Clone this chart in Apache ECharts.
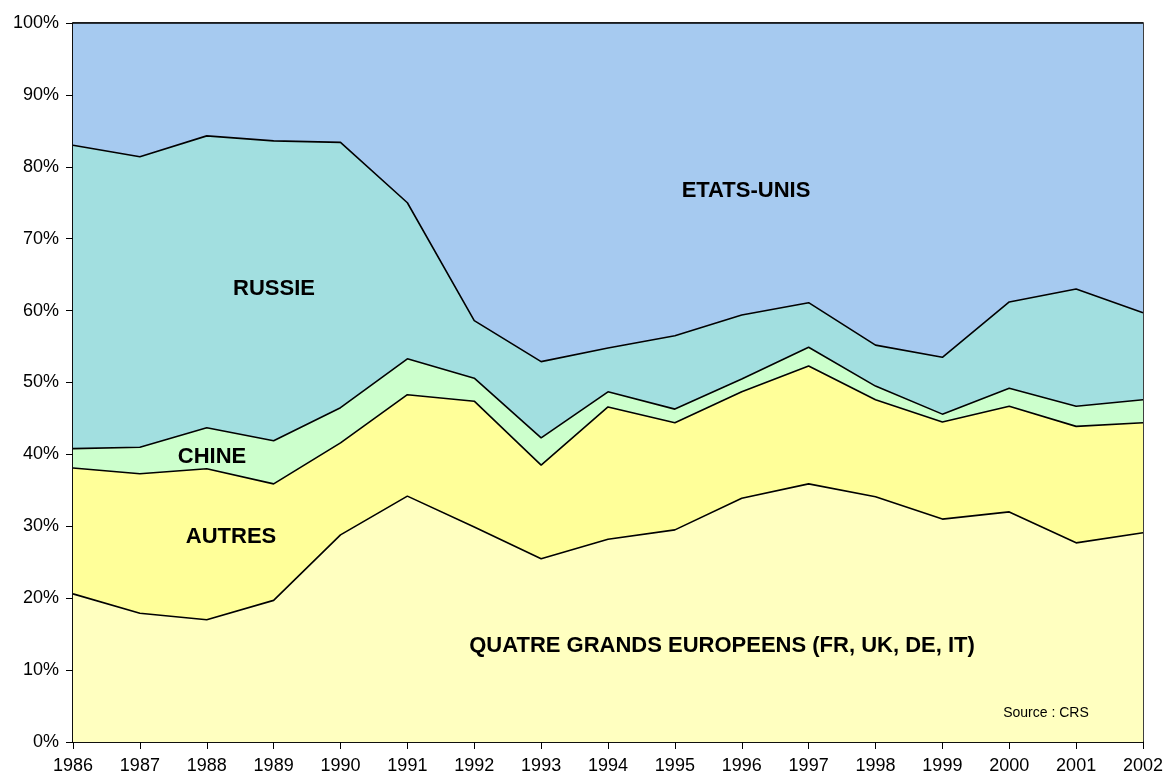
<!DOCTYPE html>
<html>
<head>
<meta charset="utf-8">
<script src="https://cdn.jsdelivr.net/npm/echarts@6/dist/echarts.min.js"></script>
<style>
  html, body { margin: 0; padding: 0; background: #fff; }
  #chart { width: 1164px; height: 778px; }
</style>
</head>
<body>
<div id="chart"></div>
<script>
var years = ['1986','1987','1988','1989','1990','1991','1992','1993','1994','1995','1996','1997','1998','1999','2000','2001','2002'];
// parts in % (stacked, bottom to top)
var quatreGrands = [20.6, 17.9, 17.0, 19.7, 28.8, 34.2, 29.9, 25.5, 28.2, 29.5, 33.9, 35.9, 34.1, 31.0, 32.0, 27.7, 29.1];
var autres       = [17.5, 19.4, 21.0, 16.2, 12.8, 14.1, 17.5, 13.0, 18.4, 14.9, 14.8, 16.4, 13.5, 13.5, 14.7, 16.2, 15.3];
var chine        = [2.7, 3.7, 5.7, 6.0, 4.9, 5.0, 3.2, 3.8, 2.1, 1.9, 1.8, 2.6, 1.9, 1.1, 2.5, 2.8, 3.2];
var russie       = [42.2, 40.4, 40.6, 41.7, 36.9, 21.7, 8.0, 10.6, 6.1, 10.2, 8.9, 6.2, 5.7, 7.9, 12.0, 16.3, 12.1];
var etatsUnis    = [17.0, 18.6, 15.7, 16.4, 16.6, 25.0, 41.4, 47.1, 45.2, 43.5, 40.6, 38.9, 44.8, 46.5, 38.8, 37.0, 40.3];
var yTicks = [0, 10, 20, 30, 40, 50, 60, 70, 80, 90, 100];

var myChart = echarts.init(document.getElementById('chart'));

function areaSeries(name, data, color) {
  return {
    name: name,
    type: 'line',
    stack: 'total',
    data: data,
    symbol: 'none',
    lineStyle: { color: '#000', width: 1.6 },
    areaStyle: { color: color, opacity: 1 },
    z: 2
  };
}

var labelFont = 'bold 22px "Liberation Sans", Arial, sans-serif';

var option = {
  backgroundColor: '#fff',
  animation: false,
  grid: {
    left: 73,
    right: 21,
    top: 23,
    bottom: 36,
    outerBoundsMode: 'none',
    show: true,
    borderColor: '#000',
    borderWidth: 1.5,
    backgroundColor: 'transparent'
  },
  xAxis: {
    type: 'category',
    data: years,
    boundaryGap: false,
    axisLine: { lineStyle: { color: '#000', width: 1.5 } },
    axisTick: { show: true, length: 7, inside: false, lineStyle: { color: '#000' } },
    axisLabel: { color: '#000', fontSize: 18, fontFamily: 'Liberation Sans, Arial', margin: 15 },
    splitLine: { show: false }
  },
  yAxis: {
    type: 'value',
    min: 0,
    max: 100,
    interval: 10,
    axisLine: { show: true, lineStyle: { color: '#000', width: 1.5 } },
    axisTick: { show: true, length: 7, lineStyle: { color: '#000' } },
    axisLabel: { color: '#000', fontSize: 18, fontFamily: 'Liberation Sans, Arial', margin: 14,
      formatter: function (v) { return yTicks.indexOf(v) >= 0 ? v + '%' : ''; } },
    splitLine: { show: false }
  },
  series: [
    areaSeries('QUATRE GRANDS EUROPEENS', quatreGrands, '#FFFFC0'),
    areaSeries('AUTRES', autres, '#FFFF99'),
    areaSeries('CHINE', chine, '#CCFFCC'),
    areaSeries('RUSSIE', russie, '#A2DFE0'),
    areaSeries('ETATS-UNIS', etatsUnis, '#A6CAF0')
  ],
  graphic: [
    { type: 'text', x: 746, y: 191, style: { text: 'ETATS-UNIS', font: labelFont, fill: '#000', align: 'center', verticalAlign: 'middle' }, z: 10 },
    { type: 'text', x: 274, y: 289, style: { text: 'RUSSIE', font: labelFont, fill: '#000', align: 'center', verticalAlign: 'middle' }, z: 10 },
    { type: 'text', x: 212, y: 457, style: { text: 'CHINE', font: labelFont, fill: '#000', align: 'center', verticalAlign: 'middle' }, z: 10 },
    { type: 'text', x: 231, y: 537, style: { text: 'AUTRES', font: labelFont, fill: '#000', align: 'center', verticalAlign: 'middle' }, z: 10 },
    { type: 'text', x: 722, y: 646, style: { text: 'QUATRE GRANDS EUROPEENS (FR, UK, DE, IT)', font: labelFont, fill: '#000', align: 'center', verticalAlign: 'middle' }, z: 10 },
    { type: 'text', x: 1046, y: 713, style: { text: 'Source : CRS', font: '14px "Liberation Sans", Arial, sans-serif', fill: '#000', align: 'center', verticalAlign: 'middle' }, z: 10 }
  ]
};

myChart.setOption(option);
</script>
</body>
</html>
